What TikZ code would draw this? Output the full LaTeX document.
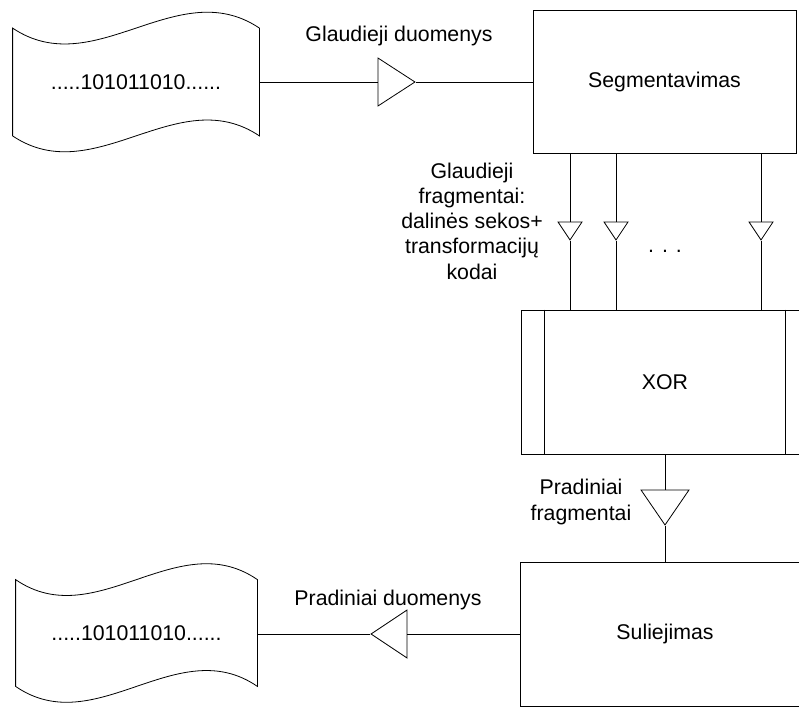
\documentclass[tikz,border=0pt]{standalone}
\usepackage{fontspec}
\setmainfont{Liberation Sans}
\usetikzlibrary{shapes.geometric}

\begin{document}
\begin{tikzpicture}[
      x=1pt, y=-1pt,
      font=\fontsize{21.3}{25.2}\selectfont,
      line width=0.8pt,
      block/.style={draw, inner sep=0pt, minimum width=263pt, minimum height=143pt},
      tapebox/.style={inner sep=0pt, minimum width=246pt, minimum height=107pt},
      flow/.style={draw, isosceles triangle, isosceles triangle stretches, inner sep=0pt},
      note/.style={align=center, inner sep=0pt}
    ]
      \useasboundingbox (0,0) rectangle (799,706);

      \node[tapebox] (src) at (136,82) {.....101011010......};
      \node[block] (seg) at (664.5,82) {Segmentavimas};
      \node[block, minimum width=288pt, minimum height=144pt] (xor) at (665,382) {XOR};
      \node[block, minimum width=289pt, minimum height=144pt] (sul) at (665,634) {Suliejimas};
      \node[tapebox, minimum width=241pt, minimum height=106pt] (dst) at (136.5,633) {.....101011010......};

      \node[flow, minimum height=37pt, minimum width=48pt, anchor=apex] (gd) at (416,82) {};
      \node[flow, shape border rotate=270, minimum height=18pt, minimum width=24pt, anchor=apex] (f1) at (570,241) {};
      \node[flow, shape border rotate=270, minimum height=18pt, minimum width=24pt, anchor=apex] (f2) at (616,241) {};
      \node[flow, shape border rotate=270, minimum height=18pt, minimum width=24pt, anchor=apex] (f3) at (761,241) {};
      \node[flow, shape border rotate=270, minimum height=35pt, minimum width=48pt, anchor=apex] (pf) at (665,526) {};
      \node[flow, shape border rotate=180, minimum height=36pt, minimum width=48pt, anchor=apex] (pd) at (370,634) {};

      \node[note, anchor=base] (gdtext) at (399,42) {Glaudieji duomenys};
      \node[note] (gftext) at (472,221) {Glaudieji\\fragmentai:\\dalinės sekos+\\transformacijų\\kodai};
      \node[note, anchor=base] (dots) at (665,252) {. . .};
      \node[note] (pftext) at (581,502) {Pradiniai\\fragmentai};
      \node[note, anchor=base] (pdtext) at (388,605) {Pradiniai duomenys};

      % wavy tapes
      \draw (src.north west) .. controls +(82,55) and +(-82,-55) .. (src.north east)
        -- (src.south east) .. controls +(-82,-55) and +(82,55) .. (src.south west) -- cycle;
      \draw (dst.north west) .. controls +(80,55) and +(-80,-55) .. (dst.north east)
        -- (dst.south east) .. controls +(-80,-55) and +(80,55) .. (dst.south west) -- cycle;

      % XOR side bars
      \draw ([xshift=24pt]xor.north west) -- ([xshift=24pt]xor.south west);
      \draw ([xshift=-24pt]xor.north east) -- ([xshift=-24pt]xor.south east);

      \draw (src) -- (gd);
      \draw (gd.apex) -- (seg.west |- gd.apex);
      \draw (f1.apex |- seg.south) -- (f1);
      \draw (f1.apex) -- (f1.apex |- xor.north);
      \draw (f2.apex |- seg.south) -- (f2);
      \draw (f2.apex) -- (f2.apex |- xor.north);
      \draw (f3.apex |- seg.south) -- (f3);
      \draw (f3.apex) -- (f3.apex |- xor.north);
      \draw (xor.south) -- (pf);
      \draw (pf.apex) -- (sul.north);
      \draw (sul) -- (pd);
      \draw (pd.apex) -- (dst.east |- pd.apex);
    \end{tikzpicture}
\end{document}
